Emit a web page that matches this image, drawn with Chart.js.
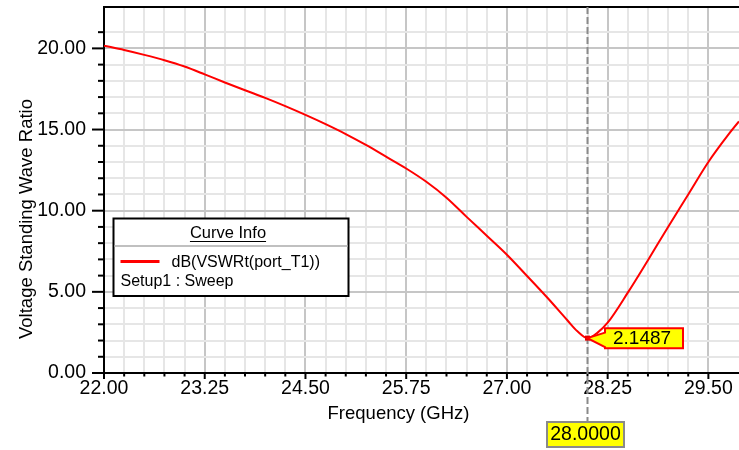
<!DOCTYPE html>
<html>
<head>
<meta charset="utf-8">
<title>VSWR</title>
<script src="https://cdn.jsdelivr.net/npm/chart.js@4/dist/chart.umd.min.js"></script>
<style>
  html, body { margin: 0; padding: 0; background: #fff; }
  #wrap { width: 739px; height: 450px; }
</style>
</head>
<body>
<div id="wrap"><canvas id="vswr" width="739" height="450"></canvas></div>
<script>
// sweep frequencies (GHz) and dB(VSWRt(port_T1))
const freqs = [22.00, 22.25, 22.50, 22.75, 23.00, 23.25, 23.50, 23.75, 24.00, 24.25,
               24.50, 24.75, 25.00, 25.25, 25.50, 25.75, 26.00, 26.25, 26.50, 26.75,
               27.00, 27.25, 27.50, 27.75, 27.875, 28.00, 28.125, 28.25, 28.50, 28.75,
               29.00, 29.25, 29.50, 29.75, 29.88, 30.00];
const vswr = [20.17, 19.90, 19.60, 19.27, 18.88, 18.40, 17.90, 17.42, 16.95, 16.44,
              15.90, 15.33, 14.72, 14.05, 13.33, 12.60, 11.78, 10.80, 9.62, 8.46,
              7.29, 5.98, 4.65, 3.25, 2.57, 2.1487, 2.49, 3.10, 4.95, 6.95,
              9.00, 11.00, 13.00, 14.70, 15.50, 16.20];

const xMajorTicks = [22.00, 23.25, 24.50, 25.75, 27.00, 28.25, 29.50];
const yMajorTicks = [0, 5, 10, 15, 20];
const xRange = [22.00, 29.88];
const yRange = [0, 22.55];

const markerFreq = 28.0;
const markerValue = 2.1487;

const curveName = 'dB(VSWRt(port_T1))';
const setupName = 'Setup1 : Sweep';

const FONT = "'Liberation Sans', Arial, sans-serif";
const isMajorX = v => xMajorTicks.some(t => Math.abs(t - v) < 1e-6);
const isMajorY = v => yMajorTicks.includes(v);

const frame = {
  id: 'frame',
  afterDraw(chart) {
    const { ctx, chartArea: a, scales: { x, y } } = chart;
    ctx.save();

    // top edge of the plot
    ctx.strokeStyle = '#000';
    ctx.lineWidth = 2;
    ctx.beginPath();
    ctx.moveTo(a.left - 1, a.top);
    ctx.lineTo(a.right, a.top);
    ctx.stroke();

    // tick marks outside the axes
    ctx.lineWidth = 2;
    x.ticks.forEach(t => {
      const px = x.getPixelForValue(t.value);
      const len = isMajorX(t.value) ? 6 : 3.5;
      ctx.beginPath();
      ctx.moveTo(px, a.bottom);
      ctx.lineTo(px, a.bottom + len);
      ctx.stroke();
    });
    y.ticks.forEach(t => {
      const py = y.getPixelForValue(t.value);
      const len = isMajorY(t.value) ? 12 : 6;
      ctx.beginPath();
      ctx.moveTo(a.left - len, py);
      ctx.lineTo(a.left, py);
      ctx.stroke();
    });

    // axis titles
    ctx.fillStyle = '#000';
    ctx.font = `18.5px ${FONT}`;
    ctx.textAlign = 'center';
    ctx.textBaseline = 'alphabetic';
    ctx.fillText('Frequency (GHz)', 398.5, 419);
    ctx.save();
    ctx.translate(32, 219);
    ctx.rotate(-Math.PI / 2);
    ctx.fillText('Voltage Standing Wave Ratio', 0, 0);
    ctx.restore();

    // marker line at the selected frequency
    const mx = x.getPixelForValue(markerFreq);
    const my = y.getPixelForValue(markerValue);
    ctx.strokeStyle = '#8a8a8a';
    ctx.lineWidth = 2;
    ctx.setLineDash([7, 3]);
    ctx.beginPath();
    ctx.moveTo(mx, a.top);
    ctx.lineTo(mx, 422);
    ctx.stroke();
    ctx.setLineDash([]);

    // marker point
    ctx.fillStyle = '#e00000';
    ctx.fillRect(mx - 2.5, my - 2.5, 5, 5);

    // value callout
    const bx = mx + 17.5, by = my - 10, bw = 78, bh = 20;
    ctx.beginPath();
    ctx.moveTo(mx, my);
    ctx.lineTo(bx, by + 4.5);
    ctx.lineTo(bx, by);
    ctx.lineTo(bx + bw, by);
    ctx.lineTo(bx + bw, by + bh);
    ctx.lineTo(bx, by + bh);
    ctx.lineTo(bx, by + bh - 1);
    ctx.closePath();
    ctx.fillStyle = '#ffff00';
    ctx.fill();
    ctx.strokeStyle = '#ff0000';
    ctx.lineWidth = 2;
    ctx.stroke();
    ctx.fillStyle = '#000';
    ctx.font = `19px ${FONT}`;
    ctx.textAlign = 'left';
    ctx.fillText(markerValue.toFixed(4), bx + 8, by + 15.5);

    // frequency callout under the axis
    const fw = 77, fh = 25, fx = mx - 40.5, fy = 422;
    ctx.fillStyle = '#ffff00';
    ctx.fillRect(fx, fy, fw, fh);
    ctx.strokeStyle = '#8a8a8a';
    ctx.strokeRect(fx, fy, fw, fh);
    ctx.fillStyle = '#000';
    ctx.font = `19.5px ${FONT}`;
    ctx.textAlign = 'center';
    ctx.fillText(markerFreq.toFixed(4), fx + fw / 2, fy + 18);

    // curve info box
    const lx = 113.5, ly = 218.5, lw = 235, lh = 77.5;
    ctx.fillStyle = '#fff';
    ctx.fillRect(lx, ly, lw, lh);
    ctx.strokeStyle = '#000';
    ctx.lineWidth = 2;
    ctx.strokeRect(lx, ly, lw, lh);
    ctx.strokeStyle = '#c0c0c0';
    ctx.beginPath();
    ctx.moveTo(lx + 1, 246);
    ctx.lineTo(lx + lw - 1, 246);
    ctx.stroke();

    ctx.fillStyle = '#000';
    ctx.font = `16.5px ${FONT}`;
    ctx.textAlign = 'center';
    ctx.fillText('Curve Info', 228, 238.3);
    const uw = ctx.measureText('Curve Info').width;
    ctx.lineWidth = 1;
    ctx.strokeStyle = '#000';
    ctx.beginPath();
    ctx.moveTo(228 - uw / 2, 241.5);
    ctx.lineTo(228 + uw / 2, 241.5);
    ctx.stroke();

    ctx.strokeStyle = '#ff0000';
    ctx.lineWidth = 3;
    ctx.beginPath();
    ctx.moveTo(120.5, 261.5);
    ctx.lineTo(159.5, 261.5);
    ctx.stroke();

    ctx.textAlign = 'left';
    ctx.font = `16px ${FONT}`;
    ctx.fillText(curveName, 171.5, 267.3);
    ctx.fillText(setupName, 120.5, 286);

    ctx.restore();
  }
};

new Chart(document.getElementById('vswr'), {
  type: 'line',
  data: {
    datasets: [{
      label: curveName,
      data: freqs.map((f, i) => ({ x: f, y: vswr[i] })),
      borderColor: '#ff0000',
      borderWidth: 2,
      pointRadius: 0,
      cubicInterpolationMode: 'monotone',
      fill: false
    }]
  },
  options: {
    responsive: false,
    devicePixelRatio: 1,
    animation: false,
    layout: { padding: { top: 7, right: 0, left: 0, bottom: 0 } },
    plugins: { legend: { display: false }, tooltip: { enabled: false } },
    scales: {
      x: {
        type: 'linear',
        min: xRange[0],
        max: xRange[1],
        afterBuildTicks: s => { s.ticks = s.ticks.filter(t => Math.abs(t.value * 4 - Math.round(t.value * 4)) < 1e-6); },
        afterFit: s => { s.height = 77; s.paddingLeft = 0; s.paddingRight = 0; },
        ticks: {
          stepSize: 0.25,
          autoSkip: false,
          maxRotation: 0,
          padding: 4,
          color: '#000',
          font: { family: FONT, size: 19.5 },
          callback: v => isMajorX(v) ? v.toFixed(2) : ''
        },
        grid: {
          drawTicks: false,
          lineWidth: 2,
          color: c => isMajorX(c.tick.value) ? '#c6c6c6' : '#e6e6e6'
        },
        border: { color: '#000', width: 2 }
      },
      y: {
        min: yRange[0],
        max: yRange[1],
        afterBuildTicks: s => { s.ticks = s.ticks.filter(t => Number.isInteger(t.value)); },
        afterFit: s => { s.width = 104; s.paddingTop = 0; s.paddingBottom = 0; },
        ticks: {
          stepSize: 1,
          autoSkip: false,
          padding: 18,
          color: '#000',
          font: { family: FONT, size: 19.5 },
          callback: v => isMajorY(v) ? v.toFixed(2) : ''
        },
        grid: {
          drawTicks: false,
          lineWidth: 2,
          color: c => isMajorY(c.tick.value) ? '#c6c6c6' : '#e6e6e6'
        },
        border: { color: '#000', width: 2 }
      }
    }
  },
  plugins: [frame]
});
</script>
</body>
</html>
